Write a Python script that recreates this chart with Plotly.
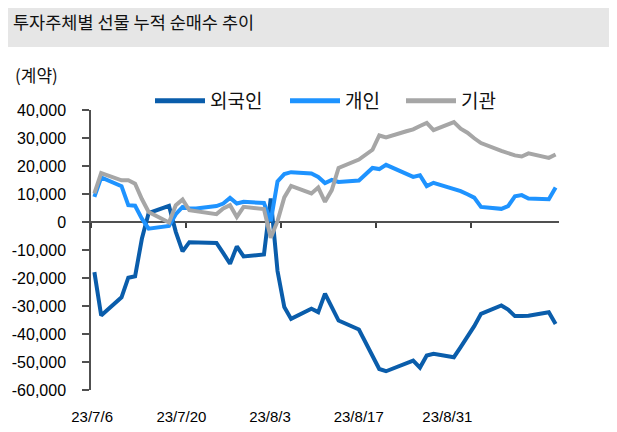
import plotly.graph_objects as go

dates = [
    "2023-07-06", "2023-07-07", "2023-07-10", "2023-07-11", "2023-07-12", "2023-07-13", "2023-07-14",
    "2023-07-17", "2023-07-18", "2023-07-19", "2023-07-20", "2023-07-21", "2023-07-24", "2023-07-25",
    "2023-07-26", "2023-07-27", "2023-07-28", "2023-07-31", "2023-08-01", "2023-08-02", "2023-08-03",
    "2023-08-04", "2023-08-07", "2023-08-08", "2023-08-09", "2023-08-10", "2023-08-11", "2023-08-14",
    "2023-08-16", "2023-08-17", "2023-08-18", "2023-08-21", "2023-08-22", "2023-08-23", "2023-08-24",
    "2023-08-25", "2023-08-28", "2023-08-29", "2023-08-30", "2023-08-31", "2023-09-01", "2023-09-04",
    "2023-09-05", "2023-09-06", "2023-09-07", "2023-09-08", "2023-09-11", "2023-09-12",
]

foreign = [
    -17900, -33400, -26900, -19900, -19400, -6000, 3200,
    5800, -3500, -10500, -7200, -7300, -7500, -11100,
    -14900, -8700, -12300, -11600, 8400, -17500, -30400,
    -34600, -31000, -32200, -25600, -30400, -35200, -38400,
    -48200, -52500, -53300, -50600, -49500, -52000, -47700,
    -47100, -48300, -44700, -41000, -37200, -32800, -29800,
    -31300, -33600, -33600, -33500, -32200, -36400,
]

individual = [
    9000, 15900, 12800, 6000, 5800, 1200, -2400,
    -1400, 2800, 5400, 4800, 4800, 5700, 6600,
    8600, 6600, 7200, 6800, 300, 14500, 17100,
    17800, 17300, 16100, 13900, 15000, 14300, 14800,
    19300, 18900, 20400, 17300, 16100, 16700, 12800,
    14000, 12000, 11000, 9900, 8700, 5400, 4700,
    5700, 9200, 9600, 8400, 8100, 12300,
]

institution = [
    10200, 17500, 14900, 14900, 13700, 8200, 3600,
    -200, 6000, 8000, 4200, 3800, 2800, 4800,
    6000, 1800, 5400, 4600, -5600, 300, 8800,
    12900, 10200, 12300, 7200, 11400, 19300, 22300,
    25800, 30900, 30200, 32400, 33100, 34300, 35400,
    32800, 35700, 33300, 31900, 29900, 28200, 25400,
    24500, 23800, 23400, 24500, 22900, 24100,
]

series_names = ["외국인", "개인", "기관"]
series_colors = ["#0a5dab", "#1e93ff", "#a6a6a6"]

y_tick_vals = [40000, 30000, 20000, 10000, 0, -10000, -20000, -30000, -40000, -50000, -60000]
y_tick_text = ["40,000", "30,000", "20,000", "10,000", "0", "-10,000", "-20,000",
               "-30,000", "-40,000", "-50,000", "-60,000"]

x_label_pos = ["2023-07-05 16:00", "2023-07-18 20:00", "2023-07-31 21:30",
               "2023-08-13 23:15", "2023-08-27 01:00"]
x_label_text = ["23/7/6", "23/7/20", "23/8/3", "23/8/17", "23/8/31"]
x_tick_marks = ["2023-07-05 12:00", "2023-07-19 12:00", "2023-08-02 12:00",
                "2023-08-16 12:00", "2023-08-30 12:00"]
x_range = ["2023-07-05 12:00", "2023-09-12 12:00"]
y_range = [-60000, 40000]

# page body has an 8px margin, so the figure is laid out in a 609x424 box
W, H = 609, 424
ML, MR, MT, MB = 83, 58, 102, 42
PW, PH = W - ML - MR, H - MT - MB


def px_x(px):
    return (px - 8 - ML) / PW


def px_y(py):
    return (H - MB - (py - 8)) / PH


fig = go.Figure()
legend_widths = [70, 51, 40]
for name, vals, col, lw in zip(series_names, [foreign, individual, institution], series_colors, legend_widths):
    fig.add_trace(go.Scatter(
        x=dates, y=vals, mode="lines", name=name,
        line=dict(color=col, width=4), legendwidth=lw,
    ))

# helper empty trace for zero-line tick marks axis
fig.add_trace(go.Scatter(x=[], y=[], xaxis="x2", showlegend=False, hoverinfo="skip"))

fig.update_layout(
    width=W, height=H,
    margin=dict(l=ML, r=MR, t=MT, b=MB, autoexpand=False),
    paper_bgcolor="white", plot_bgcolor="white",
    font=dict(family="Liberation Sans, Arial, sans-serif", color="#000000"),
    title=dict(
        text="투자주체별 선물 누적 순매수 추이",
        font=dict(family="Noto Sans CJK KR", size=17.5, color="#111111"),
        x=5 / W, xanchor="left", xref="container",
        y=1 - 15 / H, yanchor="middle", yref="container",
    ),
    xaxis=dict(
        type="date", range=x_range, automargin=False,
        showgrid=False, zeroline=False, showline=False,
        tickmode="array", tickvals=x_label_pos, ticktext=x_label_text,
        ticks="", tickfont=dict(size=15, family="Liberation Sans, Arial"),
        ticklabelstandoff=16,
    ),
    xaxis2=dict(
        type="date", range=x_range, overlaying="x", anchor="free",
        position=0.6, side="bottom", automargin=False,
        showgrid=False, zeroline=False, showline=False,
        tickmode="array", tickvals=x_tick_marks, ticks="outside",
        ticklen=5, tickwidth=1.5, tickcolor="#404040", showticklabels=False,
    ),
    yaxis=dict(
        range=y_range, showgrid=False, automargin=False,
        zeroline=True, zerolinecolor="#505050", zerolinewidth=2,
        showline=True, linecolor="#505050", linewidth=1.5,
        tickmode="array", tickvals=y_tick_vals, ticktext=y_tick_text,
        ticks="outside", ticklen=7, tickwidth=1.5, tickcolor="#505050",
        tickfont=dict(size=16, family="Liberation Sans, Arial"),
        ticklabelstandoff=13,
    ),
    legend=dict(
        orientation="h", x=px_x(150), xanchor="left",
        y=px_y(101), yanchor="middle",
        font=dict(family="Noto Sans CJK KR", size=19, color="#111111"),
        bgcolor="rgba(0,0,0,0)", itemsizing="constant", itemwidth=50,
    ),
    shapes=[dict(
        type="rect", xref="paper", yref="paper",
        x0=px_x(0), x1=px_x(640),
        y0=px_y(47), y1=px_y(-20),
        fillcolor="#e6e6e6", line=dict(width=0), layer="below",
    )],
    annotations=[dict(
        text="(계약)", xref="paper", yref="paper",
        x=px_x(13), xanchor="left",
        y=px_y(74), yanchor="middle",
        showarrow=False,
        font=dict(family="Noto Sans CJK KR", size=17, color="#111111"),
    )],
)

fig.write_html("out.html")
